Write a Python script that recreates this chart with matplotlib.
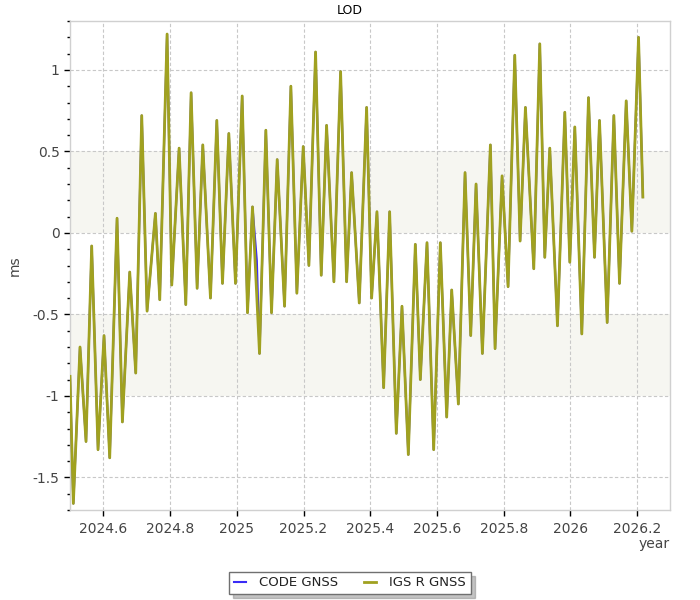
import matplotlib
matplotlib.use('Agg')
import matplotlib.pyplot as plt
from matplotlib.ticker import MultipleLocator, FuncFormatter

# ── Data (turning points of the LOD series) ──────────────────────────────────
igs_year = [
    2024.500, 2024.510, 2024.530, 2024.548, 2024.565, 2024.584, 2024.602, 2024.619,
    2024.641, 2024.657, 2024.679, 2024.697, 2024.715, 2024.731, 2024.756, 2024.769,
    2024.791, 2024.805, 2024.827, 2024.847, 2024.863, 2024.881, 2024.898, 2024.921,
    2024.940, 2024.957, 2024.976, 2024.996, 2025.016, 2025.032, 2025.047, 2025.068,
    2025.087, 2025.104, 2025.121, 2025.143, 2025.162, 2025.180, 2025.199, 2025.216,
    2025.236, 2025.253, 2025.269, 2025.291, 2025.311, 2025.329, 2025.344, 2025.367,
    2025.389, 2025.404, 2025.420, 2025.440, 2025.458, 2025.478, 2025.495, 2025.514,
    2025.535, 2025.550, 2025.570, 2025.590, 2025.610, 2025.629, 2025.644, 2025.664,
    2025.684, 2025.701, 2025.717, 2025.736, 2025.760, 2025.774, 2025.795, 2025.813,
    2025.833, 2025.849, 2025.865, 2025.890, 2025.908, 2025.923, 2025.938, 2025.961,
    2025.983, 2025.998, 2026.013, 2026.034, 2026.054, 2026.072, 2026.087, 2026.110,
    2026.130, 2026.147, 2026.167, 2026.184, 2026.204, 2026.217,
]
igs_lod = [
    -0.88, -1.66, -0.70, -1.28, -0.08, -1.33, -0.63, -1.38,
    0.09, -1.16, -0.24, -0.86, 0.72, -0.48, 0.12, -0.41,
    1.22, -0.32, 0.52, -0.44, 0.86, -0.34, 0.54, -0.40,
    0.69, -0.31, 0.61, -0.31, 0.84, -0.49, 0.16, -0.74,
    0.63, -0.49, 0.45, -0.45, 0.90, -0.37, 0.53, -0.20,
    1.11, -0.26, 0.66, -0.30, 0.99, -0.30, 0.37, -0.43,
    0.77, -0.40, 0.13, -0.95, 0.13, -1.23, -0.45, -1.36,
    -0.07, -0.90, -0.06, -1.33, -0.06, -1.13, -0.35, -1.05,
    0.37, -0.63, 0.30, -0.74, 0.54, -0.71, 0.35, -0.33,
    1.09, -0.05, 0.77, -0.22, 1.16, -0.15, 0.52, -0.57,
    0.74, -0.18, 0.65, -0.62, 0.83, -0.15, 0.69, -0.55,
    0.72, -0.31, 0.81, 0.01, 1.20, 0.22,
]

# CODE follows IGS almost exactly; one extra point where the blue shows through
code_extra_year = 2025.060
code_extra_lod = -0.17
k = igs_year.index(2025.068)
code_year = igs_year[:k] + [code_extra_year] + igs_year[k:]
code_lod = igs_lod[:k] + [code_extra_lod] + igs_lod[k:]

series_names = ['CODE GNSS', 'IGS R GNSS']

# ── Figure ───────────────────────────────────────────────────────────────────
fig = plt.figure(figsize=(7, 6), dpi=100)
fig.patch.set_facecolor('white')
ax = fig.add_axes([0.1, 0.15, 0.857, 0.815])

ax.axhspan(0, 0.5, color='#f6f6f1', zorder=0, lw=0)
ax.axhspan(-1, -0.5, color='#f6f6f1', zorder=0, lw=0)

ax.plot(code_year, code_lod, color='#3a2cf5', lw=1.5, zorder=3, label=series_names[0])
ax.plot(igs_year, igs_lod, color='#a0a120', lw=2.0, zorder=4, label=series_names[1])

ax.set_xlim(2024.5, 2026.298)
ax.set_ylim(-1.70, 1.30)

ax.xaxis.set_major_locator(MultipleLocator(0.2))
ax.xaxis.set_major_formatter(FuncFormatter(lambda v, _: f'{round(v, 1):g}'))
ax.yaxis.set_major_locator(MultipleLocator(0.5))
ax.yaxis.set_minor_locator(MultipleLocator(0.1))
ax.yaxis.set_major_formatter(FuncFormatter(lambda v, _: f'{round(v, 1):g}'))

ax.tick_params(which='major', direction='out', length=4.5, width=1, color='black',
               labelsize=10, labelcolor='#444444')
ax.tick_params(axis='y', which='minor', direction='out', length=2.5, width=1, color='black')
ax.tick_params(axis='x', pad=4)
ax.tick_params(axis='y', pad=3)

for sp in ax.spines.values():
    sp.set_color('#d0d0d0')
    sp.set_linewidth(1)

ax.set_axisbelow(True)
ax.grid(True, which='major', color='#c8c8c8', linestyle=(0, (3, 2)), linewidth=0.8)

ax.set_xlabel('year', fontsize=10, color='#444444', loc='right')
ax.xaxis.set_label_coords(1.0, -0.055)
ax.set_ylabel('ms', fontsize=10, color='#444444')
ax.yaxis.set_label_coords(-0.08, 0.5)

fig.text(0.5, 1 - 11 / 600, 'LOD', ha='center', va='center', fontsize=9, color='black')

leg = fig.legend(loc='center', bbox_to_anchor=(350 / 700, 1 - 583 / 600), ncol=2,
                 fontsize=9.5, frameon=True, fancybox=False,
                 shadow={'ox': 3, 'oy': -3, 'color': '#888888'},
                 handlelength=0.9, handletextpad=1.0, columnspacing=2.0,
                 borderpad=0.35)
leg.get_frame().set_edgecolor('#707070')
leg.get_frame().set_linewidth(1)
for t in leg.get_texts():
    t.set_color('#222222')

fig.savefig('out.png', dpi=100)
